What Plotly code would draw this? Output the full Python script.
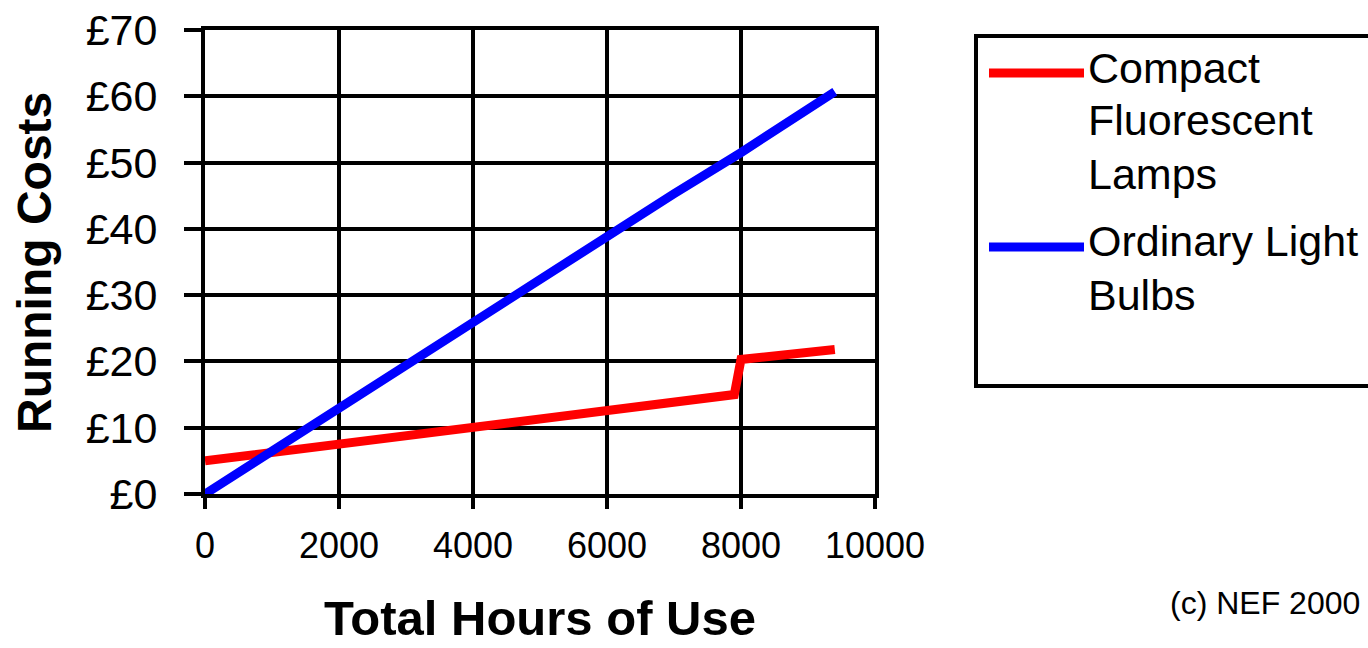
import plotly.graph_objects as go

# ---- data ----
hours_cfl = [0, 1000, 2000, 3000, 4000, 5000, 6000, 7000, 7900, 8000, 9000, 9400]
cost_cfl = [5.0, 6.3, 7.5, 8.8, 10.1, 11.4, 12.7, 13.9, 15.0, 20.3, 21.3, 21.8]

hours_bulb = [0, 1000, 2000, 3000, 4000, 5000, 6000, 7000, 8000, 9000, 9400]
cost_bulb = [0.0, 6.5, 13.0, 19.5, 26.0, 32.5, 39.0, 45.3, 51.5, 58.0, 60.7]

series_names = [["Compact", "Fluorescent", "Lamps"], ["Ordinary Light", "Bulbs"]]
series_colors = ["#ff0000", "#0000ff"]

x_ticks = [0, 2000, 4000, 6000, 8000, 10000]
x_ticktext = ["0", "2000", "4000", "6000", "8000", "10000"]
y_ticks = [0, 10, 20, 30, 40, 50, 60, 70]
y_ticktext = ["£0", "£10", "£20", "£30", "£40", "£50", "£60", "£70"]

x_title = "Total Hours of Use"
y_title = "Running Costs"
credit = "(c) NEF 2000"

FONT = "Liberation Sans, Arial, sans-serif"

# figure geometry (screen pixels); body margin removed by post_script
W, H = 1368, 648
L, R, T, B = 205, 875, 30, 494  # plot area on screen


def px_x(p):
    return (p - L) / (R - L)


def px_y(p):
    return (B - p) / (B - T)


fig = go.Figure()
fig.add_trace(go.Scatter(x=hours_cfl, y=cost_cfl, mode="lines",
                         line=dict(color=series_colors[0], width=9),
                         name=" ".join(series_names[0]), showlegend=False))
fig.add_trace(go.Scatter(x=hours_bulb, y=cost_bulb, mode="lines",
                         line=dict(color=series_colors[1], width=9),
                         name=" ".join(series_names[1]), showlegend=False))

fig.update_layout(
    width=W, height=H,
    margin=dict(l=L, r=W - R, t=T, b=H - B, pad=0, autoexpand=False),
    paper_bgcolor="white", plot_bgcolor="white",
    font=dict(family=FONT, color="black"),
    showlegend=False,
)
fig.update_xaxes(range=[0, 10000], tickvals=x_ticks, ticktext=x_ticktext,
                 showgrid=True, gridcolor="black", gridwidth=4,
                 showline=True, linecolor="black", linewidth=4, mirror=True,
                 ticks="outside", ticklen=11, tickwidth=4, tickcolor="black",
                 tickfont=dict(size=36, family=FONT, color="black"),
                 ticklabelstandoff=6, ticklabeloverflow="allow", zeroline=False,
                 automargin=False)
fig.update_yaxes(range=[0, 70], tickvals=y_ticks, ticktext=y_ticktext,
                 showgrid=True, gridcolor="black", gridwidth=4,
                 showline=True, linecolor="black", linewidth=4, mirror=True,
                 ticks="outside", ticklen=17, tickwidth=4, tickcolor="black",
                 tickfont=dict(size=43, family=FONT, color="black"),
                 ticklabelstandoff=18, ticklabeloverflow="allow", zeroline=False,
                 automargin=False)

annotations = [
    dict(text=f"<b>{x_title}</b>", x=0.5, y=px_y(647), xref="paper", yref="paper",
         xanchor="center", yanchor="bottom", showarrow=False,
         font=dict(size=49, family=FONT, color="black")),
    dict(text=f"<b>{y_title}</b>", x=px_x(34), y=px_y(262), xref="paper", yref="paper",
         xanchor="center", yanchor="middle", showarrow=False, textangle=-90,
         font=dict(size=48, family=FONT, color="black")),
    dict(text=credit, x=px_x(1362), y=px_y(603), xref="paper", yref="paper",
         xanchor="right", yanchor="middle", showarrow=False,
         font=dict(size=32, family=FONT, color="black")),
]

shapes = [
    dict(type="rect", xref="paper", yref="paper",
         x0=px_x(976), x1=px_x(1376), y0=px_y(36), y1=px_y(386),
         line=dict(color="black", width=4), fillcolor="white", layer="below"),
]

# manual legend
line_y = [73, 247]
text_rows = [[68, 120, 174], [241, 295]]
for i, names in enumerate(series_names):
    shapes.append(dict(type="line", xref="paper", yref="paper",
                       x0=px_x(989), x1=px_x(1084), y0=px_y(line_y[i]), y1=px_y(line_y[i]),
                       line=dict(color=series_colors[i], width=9)))
    for txt, yy in zip(names, text_rows[i]):
        annotations.append(dict(text=txt, x=px_x(1086), y=px_y(yy), xref="paper", yref="paper",
                                xanchor="left", yanchor="middle", showarrow=False,
                                font=dict(size=43, family=FONT, color="black")))

fig.update_layout(annotations=annotations, shapes=shapes)
fig.write_html("out.html", config={"displayModeBar": False},
               post_script="document.body.style.margin='0';document.body.style.overflow='hidden';")
